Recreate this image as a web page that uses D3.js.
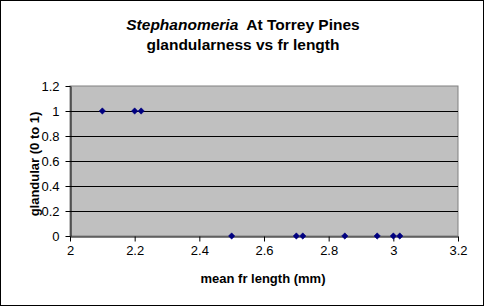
<!DOCTYPE html>
<html>
<head>
<meta charset="utf-8">
<script src="https://cdn.jsdelivr.net/npm/d3@7"></script>
<style>
  body { margin: 0; background: #fff; }
  svg { display: block; font-family: "Liberation Sans", Arial, sans-serif; }
</style>
</head>
<body>
<svg id="chart" width="484" height="306"></svg>
<script>
// donnees
const frLength = [2.1, 2.2, 2.22, 2.5, 2.7, 2.72, 2.85, 2.95, 3.0, 3.02];
const glandular = [1, 1, 1, 0, 0, 0, 0, 0, 0, 0];
const xTicks = [2, 2.2, 2.4, 2.6, 2.8, 3, 3.2];
const yTicks = [0, 0.2, 0.4, 0.6, 0.8, 1, 1.2];

const svg = d3.select("#chart");

// bordure exterieure
svg.append("rect")
  .attr("x", 0.5).attr("y", 0.5)
  .attr("width", 483).attr("height", 305)
  .attr("fill", "#fff").attr("stroke", "#000");

const x = d3.scaleLinear().domain([2, 3.2]).range([70, 458]);
const y = d3.scaleLinear().domain([0, 1.2]).range([236, 86]);

// zone de trace
svg.append("rect")
  .attr("x", x(2)).attr("y", y(1.2))
  .attr("width", x(3.2) - x(2)).attr("height", y(0) - y(1.2))
  .attr("fill", "#c0c0c0").attr("stroke", "#808080");

// lignes de grille
svg.append("g")
  .selectAll("line")
  .data(yTicks.filter((d) => d > 0 && d < 1.2))
  .enter()
  .append("line")
  .attr("x1", x(2)).attr("x2", x(3.2))
  .attr("y1", (d) => Math.round(y(d)) + 0.5)
  .attr("y2", (d) => Math.round(y(d)) + 0.5)
  .attr("stroke", "#000");

// axes
const xAxis = svg.append("g")
  .attr("transform", `translate(0,${y(0) + 0.5})`)
  .call(d3.axisBottom(x).tickValues(xTicks).tickSize(5).tickSizeOuter(0).tickFormat(d3.format("~g")));
const yAxis = svg.append("g")
  .attr("transform", `translate(${x(2) + 0.5},0)`)
  .call(d3.axisLeft(y).tickValues(yTicks).tickSize(5).tickSizeOuter(0).tickFormat(d3.format("~g")));

[xAxis, yAxis].forEach((a) => {
  a.selectAll("path").attr("stroke", "#000");
  a.selectAll("line").attr("stroke", "#000");
  a.selectAll("text")
    .attr("font-family", "Liberation Sans, Arial, sans-serif")
    .attr("font-size", 13)
    .attr("fill", "#000");
});
xAxis.selectAll("text").attr("dy", 0).attr("y", 18.5);
yAxis.selectAll("text").attr("x", -11);

// points (losanges carres tournes de 45 degres)
const data = frLength.map((v, i) => ({ x: v, y: glandular[i] }));
svg.append("g")
  .selectAll("path")
  .data(data)
  .enter()
  .append("path")
  .attr("d", d3.symbol().type(d3.symbolSquare).size(20))
  .attr("transform", (d) => `translate(${x(d.x)},${y(d.y)}) rotate(45)`)
  .attr("fill", "#000080")
  .attr("stroke", "#000080")
  .attr("stroke-width", 0.5);

// titre
const title = svg.append("text")
  .attr("x", 243).attr("y", 30)
  .attr("text-anchor", "middle")
  .attr("font-size", 15.5)
  .attr("font-weight", "bold");
title.append("tspan").attr("font-style", "italic").text("Stephanomeria");
title.append("tspan").text("\u00a0 At Torrey Pines");

svg.append("text")
  .attr("x", 243).attr("y", 50)
  .attr("text-anchor", "middle")
  .attr("font-size", 15.5)
  .attr("font-weight", "bold")
  .text("glandularness vs fr length");

// titres des axes
svg.append("text")
  .attr("x", 263).attr("y", 283)
  .attr("text-anchor", "middle")
  .attr("font-size", 13)
  .attr("font-weight", "bold")
  .text("mean fr length (mm)");

svg.append("text")
  .attr("transform", "translate(39,164) rotate(-90)")
  .attr("text-anchor", "middle")
  .attr("font-size", 13)
  .attr("font-weight", "bold")
  .text("glandular (0 to 1)");
</script>
</body>
</html>
